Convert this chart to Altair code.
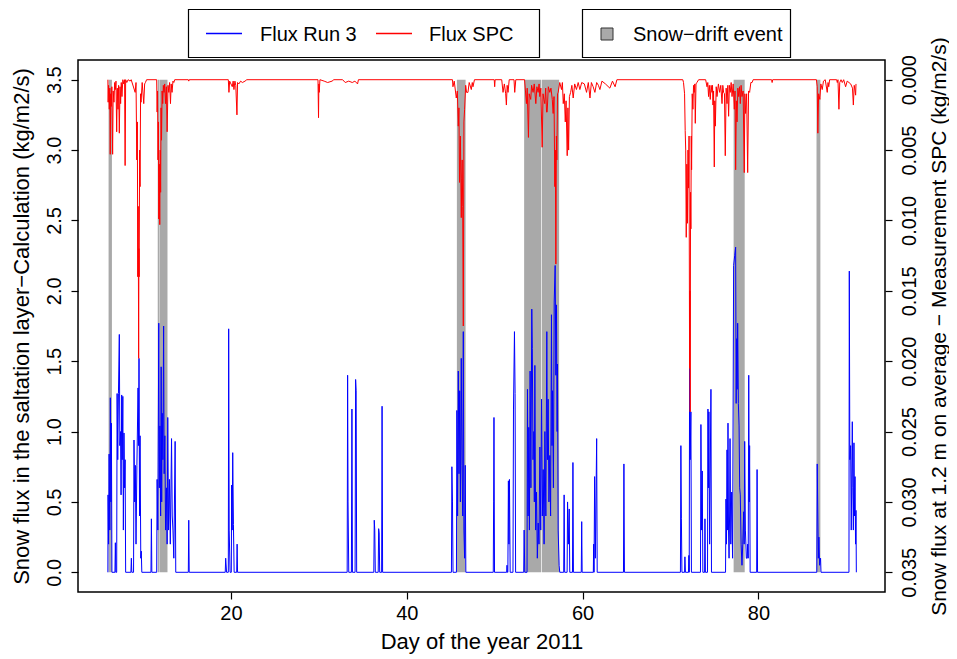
import altair as alt
import pandas as pd

# ---------------- data ----------------
blue_day = [6.00, 6.02, 6.08, 6.14, 6.22, 6.28, 6.34, 6.40, 6.46,
            6.80, 6.85, 6.90,
            7.00, 7.05, 7.12, 7.20, 7.30, 7.36, 7.44, 7.50, 7.57, 7.63, 7.70, 7.76, 7.83, 7.90, 7.96, 8.02,
            8.62, 8.67, 8.72,
            8.92, 8.97, 9.05, 9.12, 9.20, 9.30, 9.43, 9.50, 9.54, 9.60, 9.66, 9.74, 9.80, 9.86,
            10.90, 10.95, 11.00,
            11.55, 11.60, 11.68, 11.79, 11.85, 11.92, 12.00, 12.06, 12.12, 12.18, 12.26, 12.34, 12.40, 12.48,
            12.56, 12.66, 12.74, 12.81, 12.90, 13.00, 13.10, 13.24, 13.32, 13.40, 13.50, 13.65, 13.72,
            15.15, 15.20, 15.25,
            19.35, 19.40, 19.50,
            19.70, 19.74, 19.80, 19.90,
            20.04, 20.08, 20.14, 20.20, 20.28, 20.36,
            20.65, 20.70, 20.75,
            33.22, 33.27, 33.32, 33.40,
            33.70, 33.76, 33.82,
            34.12, 34.18, 34.24, 34.30,
            36.25, 36.30, 36.36, 36.42,
            36.75, 36.80, 36.86, 36.92,
            37.14, 37.19, 37.25,
            45.08, 45.13, 45.20, 45.26,
            45.65, 45.70, 45.78, 45.86, 45.94, 46.02, 46.10, 46.20, 46.28, 46.36, 46.43, 46.50, 46.58, 46.65, 46.72,
            49.84, 49.88, 49.92, 49.98,
            51.36, 51.40, 51.45,
            51.50, 51.56, 51.62, 51.68, 51.76,
            52.08, 52.14, 52.25, 52.32, 52.38,
            53.30, 53.35, 53.42,
            53.68, 53.73, 53.80, 53.88, 53.95, 54.03, 54.12, 54.22, 54.28, 54.36, 54.45, 54.51, 54.57, 54.66,
            54.76, 54.85, 54.95, 55.04, 55.14, 55.24, 55.33, 55.42, 55.52, 55.62, 55.71, 55.82, 55.93, 56.00,
            56.08, 56.17, 56.27, 56.36, 56.46, 56.52, 56.58, 56.68, 56.77, 56.88, 56.96, 57.03, 57.10, 57.14,
            57.22, 57.33, 57.40,
            57.85, 57.90, 57.96,
            58.24, 58.29, 58.38, 58.48, 58.54,
            58.85, 58.90, 58.96,
            59.85, 59.90, 59.95,
            61.22, 61.26, 61.30, 61.37, 61.45, 61.60, 61.66,
            64.65, 64.70, 64.76,
            71.13, 71.18, 71.24, 71.30,
            71.60, 71.64, 71.70,
            72.05, 72.09, 72.13, 72.17, 72.24, 72.32, 72.38,
            73.41, 73.46, 73.54, 73.61, 73.68,
            73.88, 73.92, 73.97,
            74.21, 74.26, 74.31, 74.37, 74.45, 74.60, 74.66,
            76.26, 76.31, 76.37, 76.43, 76.49, 76.54, 76.60, 76.66, 76.72, 76.77, 76.86, 76.96, 77.06, 77.18,
            77.30, 77.41, 77.47, 77.53, 77.58, 77.64, 77.72, 77.80, 77.87, 77.94, 78.03, 78.13, 78.22, 78.32,
            78.38, 78.44, 78.52, 78.63, 78.72, 78.78, 78.84, 78.90, 78.96, 79.00, 79.06,
            79.80, 79.85, 79.90,
            86.64, 86.69, 86.76, 86.82, 86.88, 86.96, 87.07, 87.12,
            90.30, 90.34, 90.40, 90.49, 90.56, 90.68, 90.74, 90.80, 90.87, 90.93, 90.99, 91.05, 91.10, 91.14]

blue_flux = [0, 0.55, 0.20, 0.84, 0.30, 1.24, 0.50, 1.06, 0,
             0, 0.21, 0,
             0, 1.27, 0.80, 1.27, 1.69, 0.90, 1.00, 0.55, 1.26, 0.80, 1.25, 0.30, 0.99, 0.60, 0.80, 0,
             0, 0.10, 0,
             0, 0.94, 0.50, 0.76, 0.20, 0.76, 1.31, 0.90, 1.52, 0.40, 0.97, 0.10, 0.15, 0,
             0, 0.38, 0,
             0, 0.66, 0.30, 1.77, 0.60, 1.04, 0.40, 1.46, 0.50, 1.13, 0.80, 1.75, 0.70, 0.97,
             0.30, 0.60, 0.20, 1.10, 0.30, 0.66, 0.20, 0.95, 0.40, 0.30, 0.10, 0.93, 0,
             0, 0.37, 0,
             0, 0.10, 0,
             0, 1.73, 0.30, 0,
             0, 0.62, 0.30, 0.85, 0.34, 0,
             0, 0.20, 0,
             0, 1.40, 0.50, 0,
             0, 1.16, 0,
             0, 1.37, 1.29, 0,
             0, 0.37, 0.30, 0,
             0, 0.31, 0.28, 0,
             0, 1.18, 0,
             0, 0.75, 0.50, 0,
             0, 1.15, 0.40, 1.43, 0.70, 1.29, 0.50, 1.52, 0.76, 0.40, 1.71, 0.30, 0.10, 0.76, 0,
             0, 0.50, 1.10, 0,
             0, 0.05, 0,
             0, 0.65, 0.20, 0.66, 0,
             0, 1.16, 1.71, 1.27, 0,
             0, 0.30, 0,
             0, 1.30, 0.40, 1.03, 0.30, 1.43, 0.60, 1.87, 1.59, 0.80, 1.00, 0.50, 1.47, 0.30,
             0.57, 0.10, 0.35, 0.20, 0.89, 0.30, 1.23, 0.40, 0.73, 0.20, 1.00, 0.40, 1.71, 0.80,
             1.23, 0.50, 0.83, 0.40, 1.83, 0.90, 1.29, 0.60, 1.92, 2.18, 1.40, 1.90, 1.00, 1.48,
             0.30, 0.05, 0,
             0, 0.55, 0,
             0, 0.50, 0.20, 0.45, 0,
             0, 0.78, 0,
             0, 0.36, 0,
             0, 0.20, 0, 0.68, 0.10, 0.95, 0,
             0, 0.77, 0,
             0, 0.90, 0.38, 0,
             0, 0.11, 0,
             0, 0.12, 0, 1.45, 0.80, 1.14, 0,
             0, 1.05, 0.30, 0.72, 0,
             0, 0.38, 0,
             0, 1.16, 0.60, 1.14, 0.20, 1.30, 0,
             0, 0.52, 0.20, 0.87, 0.30, 1.06, 0.30, 0.10, 0.40, 0.95, 0.20, 0.57, 0.10, 2.18,
             2.25, 2.31, 1.20, 1.66, 1.30, 1.77, 1.20, 1.04, 0.60, 0.55, 0.20, 0.05, 0.20, 0.43,
             0.20, 0.93, 0.30, 0.10, 0.10, 0.20, 0.10, 1.40, 0.50, 0.90, 0,
             0, 0.73, 0,
             0, 0.77, 0.40, 0.10, 0.25, 0.05, 0.10, 0,
             0, 2.14, 0.80, 0.90, 0.30, 1.07, 0.60, 0.30, 0.92, 0.40, 0.68, 0.20, 0.44, 0]

spc_day = [6.00, 6.03, 6.08, 6.16, 6.22, 6.27, 6.32, 6.38, 6.45, 6.54, 6.60, 6.69, 6.77, 6.85, 6.92,
           7.00, 7.07, 7.15, 7.22, 7.30, 7.38, 7.45, 7.52, 7.60, 7.70, 7.80, 7.90, 7.96, 8.02, 8.15,
           8.30, 8.53, 8.65, 9.10, 9.20, 9.29, 9.35, 9.40, 9.45, 9.50, 9.53, 9.56, 9.61, 9.66, 9.72,
           9.77, 9.90, 10.08, 10.18, 10.27, 10.40,
           11.55, 11.60, 11.65, 11.70, 11.75, 11.79, 11.84, 11.90, 11.95, 12.00, 12.05, 12.10, 12.17,
           12.24, 12.31, 12.39, 12.46, 12.55, 12.65, 12.74, 12.84, 12.93, 13.02, 13.12, 13.20, 13.30,
           13.40, 13.50, 13.60,
           15.15, 15.20, 15.25,
           19.70, 19.77, 19.85, 20.15, 20.25, 20.34, 20.45, 20.55, 20.68, 20.75, 20.90, 21.10, 21.30,
           21.60, 21.80,
           29.90, 29.96, 30.00, 30.04, 30.12, 30.60, 31.00, 31.50, 31.70,
           32.70, 33.00, 33.40, 33.80, 34.10, 34.40, 34.50,
           45.20, 45.25, 45.40, 45.63, 45.75, 45.86, 45.93, 46.00, 46.10, 46.20, 46.25, 46.30, 46.36,
           46.43, 46.50, 46.58, 46.70, 46.80, 46.96, 47.10, 47.34, 47.45, 47.53, 47.70,
           49.95, 50.00, 50.05, 50.80, 50.95, 51.10, 51.25, 51.33, 51.42, 51.52, 51.65, 52.20, 52.28, 52.40,
           53.40, 53.50, 53.61, 53.70, 53.84, 53.92, 54.10, 54.20, 54.37, 54.50, 54.68, 54.80, 54.94,
           55.05, 55.13, 55.25, 55.40, 55.50, 55.60, 55.70, 55.80, 55.90, 55.97, 56.10, 56.27, 56.40,
           56.55, 56.65, 56.75, 56.84, 56.90, 56.96, 57.02, 57.07, 57.15, 57.22, 57.40, 57.60, 57.70,
           57.80, 57.92, 58.03, 58.12, 58.25, 58.33, 58.41, 58.50, 58.64, 58.78, 58.93, 59.10, 59.30,
           59.50, 59.69, 59.90, 60.20, 60.45, 60.65, 60.84, 61.00, 61.20, 61.40, 61.60, 61.80, 61.97,
           62.20, 62.60, 63.10, 63.40, 63.70, 63.90,
           71.40, 71.48, 71.60, 71.67, 71.73, 71.79, 71.86, 71.93, 71.99, 72.05, 72.11, 72.17, 72.21,
           72.24, 72.28, 72.32, 72.36, 72.40, 72.47, 72.55, 72.62, 72.70, 72.76, 72.82, 72.90, 73.00, 73.20,
           74.00, 74.15, 74.24, 74.33, 74.42, 74.52, 74.62, 74.72, 74.78, 74.83, 74.90, 74.98, 75.04,
           75.10, 75.20, 75.29, 75.45, 75.59, 75.72, 75.86, 75.95, 76.04, 76.14, 76.23, 76.33, 76.43,
           76.52, 76.61, 76.70, 76.80, 76.90, 77.00, 77.13, 77.26, 77.34, 77.41, 77.49, 77.57, 77.66,
           77.76, 77.85, 77.94, 78.03, 78.13, 78.26, 78.39, 78.46, 78.54, 78.66, 78.78, 78.88, 79.00,
           79.14, 79.28, 79.40,
           81.50, 81.56, 81.62,
           86.60, 86.69, 86.76, 86.85, 86.99, 87.10, 87.26, 87.40, 87.60, 87.83, 87.92, 88.00, 88.10,
           88.90, 88.97, 89.05, 89.16, 89.25, 89.40, 89.54, 89.70, 89.92, 90.10, 90.30, 90.50, 90.70,
           90.80, 90.90, 91.00, 91.06, 91.10]

spc_flux = [0, 0.0016, 0.0004, 0.0021, 0.0006, 0.0053, 0.0010, 0.0019, 0.0005, 0.0053, 0.0008, 0.0016, 0.0002, 0.0007, 0.0001,
            0.0037, 0.0006, 0.0021, 0.0004, 0.0038, 0.0005, 0.0017, 0.0002, 0.0012, 0.0000, 0.0003, 0.0000, 0.0061, 0.0000, 0.0002,
            0.0000, 0.0001, 0.0000, 0.0009, 0.0002, 0.0057, 0.0030, 0.0140, 0.0090, 0.0198, 0.0120, 0.0140, 0.0050, 0.0076, 0.0010,
            0.0016, 0.0002, 0.0017, 0.0003, 0.0002, 0.0000,
            0.0000, 0.0023, 0.0008, 0.0057, 0.0030, 0.0099, 0.0060, 0.0103, 0.0050, 0.0080, 0.0020, 0.0043, 0.0008,
            0.0017, 0.0004, 0.0009, 0.0003, 0.0017, 0.0005, 0.0037, 0.0004, 0.0009, 0.0002, 0.0017, 0.0003, 0.0009,
            0.0001, 0.0002, 0.0000,
            0.0000, 0.0001, 0.0000,
            0.0000, 0.0009, 0.0001, 0.0005, 0.0001, 0.0007, 0.0001, 0.0004, 0.0025, 0.0002, 0.0003, 0.0001, 0.0002,
            0.0001, 0.0000,
            0.0000, 0.0027, 0.0003, 0.0009, 0.0000, 0.0001, 0.0002, 0.0001, 0.0000,
            0.0000, 0.0002, 0.0001, 0.0002, 0.0001, 0.0003, 0.0000,
            0.0000, 0.0005, 0.0001, 0.0013, 0.0008, 0.0033, 0.0020, 0.0073, 0.0040, 0.0098, 0.0070, 0.0057, 0.0090,
            0.0175, 0.0030, 0.0021, 0.0004, 0.0009, 0.0009, 0.0002, 0.0007, 0.0002, 0.0005, 0.0000,
            0.0000, 0.0005, 0.0000, 0.0000, 0.0009, 0.0003, 0.0010, 0.0018, 0.0004, 0.0009, 0.0000, 0.0000, 0.0009, 0.0000,
            0.0000, 0.0008, 0.0017, 0.0006, 0.0041, 0.0010, 0.0014, 0.0004, 0.0009, 0.0003, 0.0017, 0.0005, 0.0009,
            0.0003, 0.0012, 0.0006, 0.0048, 0.0010, 0.0014, 0.0017, 0.0006, 0.0023, 0.0023, 0.0005, 0.0009, 0.0006,
            0.0014, 0.0024, 0.0012, 0.0076, 0.0050, 0.0131, 0.0040, 0.0057, 0.0010, 0.0009, 0.0002, 0.0007, 0.0002,
            0.0017, 0.0010, 0.0030, 0.0015, 0.0054, 0.0020, 0.0050, 0.0012, 0.0009, 0.0004, 0.0013, 0.0003, 0.0007,
            0.0002, 0.0007, 0.0002, 0.0003, 0.0009, 0.0002, 0.0013, 0.0002, 0.0005, 0.0009, 0.0002, 0.0004, 0.0007,
            0.0001, 0.0003, 0.0006, 0.0001, 0.0005, 0.0000,
            0.0000, 0.0002, 0.0010, 0.0036, 0.0050, 0.0112, 0.0060, 0.0102, 0.0050, 0.0077, 0.0040, 0.0205, 0.0150,
            0.0236, 0.0080, 0.0106, 0.0040, 0.0064, 0.0010, 0.0021, 0.0004, 0.0009, 0.0003, 0.0031, 0.0003, 0.0002, 0.0000,
            0.0000, 0.0005, 0.0002, 0.0012, 0.0004, 0.0014, 0.0004, 0.0009, 0.0004, 0.0018, 0.0008, 0.0062, 0.0015,
            0.0033, 0.0005, 0.0012, 0.0003, 0.0009, 0.0004, 0.0017, 0.0004, 0.0009, 0.0010, 0.0054, 0.0006, 0.0017,
            0.0004, 0.0026, 0.0004, 0.0009, 0.0002, 0.0012, 0.0003, 0.0021, 0.0008, 0.0064, 0.0015, 0.0030, 0.0006,
            0.0012, 0.0005, 0.0017, 0.0004, 0.0012, 0.0008, 0.0066, 0.0010, 0.0024, 0.0010, 0.0066, 0.0008, 0.0009,
            0.0002, 0.0002, 0.0000,
            0.0000, 0.0002, 0.0000,
            0.0000, 0.0005, 0.0038, 0.0010, 0.0014, 0.0003, 0.0007, 0.0001, 0.0000, 0.0009, 0.0002, 0.0005, 0.0000,
            0.0000, 0.0002, 0.0000, 0.0021, 0.0002, 0.0000, 0.0002, 0.0000, 0.0005, 0.0001, 0.0002, 0.0003, 0.0006,
            0.0018, 0.0004, 0.0008, 0.0011, 0.0003]

event_start = [6.08, 11.67, 11.92, 45.70, 53.35, 55.36, 77.18, 86.61]
event_end = [6.46, 11.88, 12.78, 46.69, 55.28, 57.33, 78.44, 87.05]

legend_labels = ["Flux Run 3", "Flux SPC", "Snow\u2212drift event"]
series_colors = ["#0000FF", "#FF0000"]
event_color = "#A9A9A9"

left_ticks = [0.0, 0.5, 1.0, 1.5, 2.0, 2.5, 3.0, 3.5]
right_ticks = [0.0, 0.005, 0.010, 0.015, 0.020, 0.025, 0.030, 0.035]
x_ticks = [20, 40, 60, 80]

# ---------------- tables ----------------
blue_df = pd.DataFrame({"day": blue_day, "flux": blue_flux})
spc_df = pd.DataFrame({"day": spc_day, "spc": spc_flux})
ev_df = pd.DataFrame({"start": event_start, "end": event_end,
                      "lo": [0.0] * len(event_start), "hi": [3.5] * len(event_start)})
one = pd.DataFrame({"k": [0]})

FONT = "Liberation Sans"
W, H = 807, 532

xscale = alt.Scale(domain=[2.6, 94.4], nice=False, zero=False)
yleft = alt.Scale(domain=[-0.14, 3.64], nice=False, zero=False)
yright = alt.Scale(domain=[-0.0014, 0.0364], nice=False, zero=False, reverse=True)

common = dict(grid=False, domain=False, ticks=True, tickColor="black", tickWidth=1.2, tickSize=7,
              labelColor="black", titleColor="black", labelFont=FONT, titleFont=FONT,
              titleFontWeight="normal", labelFlush=False, labelOverlap=False)

x_axis = alt.Axis(values=x_ticks, title="Day of the year 2011", format="d",
                  labelFontSize=20, titleFontSize=22, labelPadding=4, titlePadding=8, **common)
left_axis = alt.Axis(values=left_ticks, format=".1f", orient="left",
                     title="Snow flux in the saltation layer\u2212Calculation (kg/m2/s)",
                     labelAngle=270, labelAlign="center", labelBaseline="bottom",
                     labelPadding=7, labelFontSize=20,
                     titleFontSize=22, titleAngle=270, titleX=-57, titleY=H / 2,
                     titleAlign="center", titleBaseline="middle", **common)
right_axis = alt.Axis(values=right_ticks, format=".3f", orient="right",
                      title="Snow flux at 1.2 m on average \u2212 Measurement SPC (kg/m2/s)",
                      labelAngle=270, labelAlign="center", labelBaseline="top",
                      labelPadding=7, labelFontSize=20,
                      titleFontSize=21, titleAngle=270, titleX=54, titleY=H / 2,
                      titleAlign="center", titleBaseline="middle", **common)

X = lambda f: alt.X(f, type="quantitative", scale=xscale, axis=x_axis)

events = alt.Chart(ev_df).mark_rect(color=event_color, strokeWidth=0).encode(
    x=X("start"), x2="end",
    y=alt.Y("lo:Q", scale=yleft, axis=left_axis), y2="hi")

blue = alt.Chart(blue_df).mark_line(stroke=series_colors[0], strokeWidth=1, interpolate="linear").encode(
    x=X("day"), y=alt.Y("flux:Q", scale=yleft, axis=left_axis))

red = alt.Chart(spc_df).mark_line(stroke=series_colors[1], strokeWidth=1, interpolate="linear").encode(
    x=X("day"), y=alt.Y("spc:Q", scale=yright, axis=right_axis))

# ---------------- legend boxes (outside the plot, above it) ----------------
def box(x1, x2):
    return alt.Chart(one).mark_rect(fill="white", stroke="black", strokeWidth=1.2).encode(
        x=alt.value(x1), x2=alt.value(x2), y=alt.value(-50.5), y2=alt.value(-2.5))

def sample(x1, x2, col):
    return alt.Chart(one).mark_rule(stroke=col, color=col, strokeWidth=1.3).encode(
        x=alt.value(x1), x2=alt.value(x2), y=alt.value(-26.5), y2=alt.value(-26.5),
        color=alt.value(col))

def label(x, txt):
    return alt.Chart(one).mark_text(align="left", baseline="middle", fontSize=20, font=FONT,
                                    color="black", text=txt).encode(
        x=alt.value(x), y=alt.value(-25.5))

legend_layers = [
    box(110.5, 461.5), box(504.5, 712.5),
    sample(128, 164, series_colors[0]), label(182, legend_labels[0]),
    sample(298, 334, series_colors[1]), label(351, legend_labels[1]),
    alt.Chart(one).mark_rect(fill=event_color, stroke="#333333", strokeWidth=1).encode(
        x=alt.value(523), x2=alt.value(535), y=alt.value(-32), y2=alt.value(-20)),
    label(555, legend_labels[2]),
]

left_part = alt.layer(events, blue, *legend_layers)
chart = alt.layer(left_part, red).resolve_scale(y="independent").properties(
    width=W, height=H,
    padding={"left": 70, "top": 52, "right": 64, "bottom": 63},
    autosize=alt.AutoSizeParams(type="none"),
    background="white",
).configure_view(stroke="black", strokeWidth=1.5).configure_axis(
    labelFont=FONT, titleFont=FONT, grid=False, titleFontWeight="normal",
)

chart.save("out.html", embed_options={"renderer": "svg", "actions": False})
